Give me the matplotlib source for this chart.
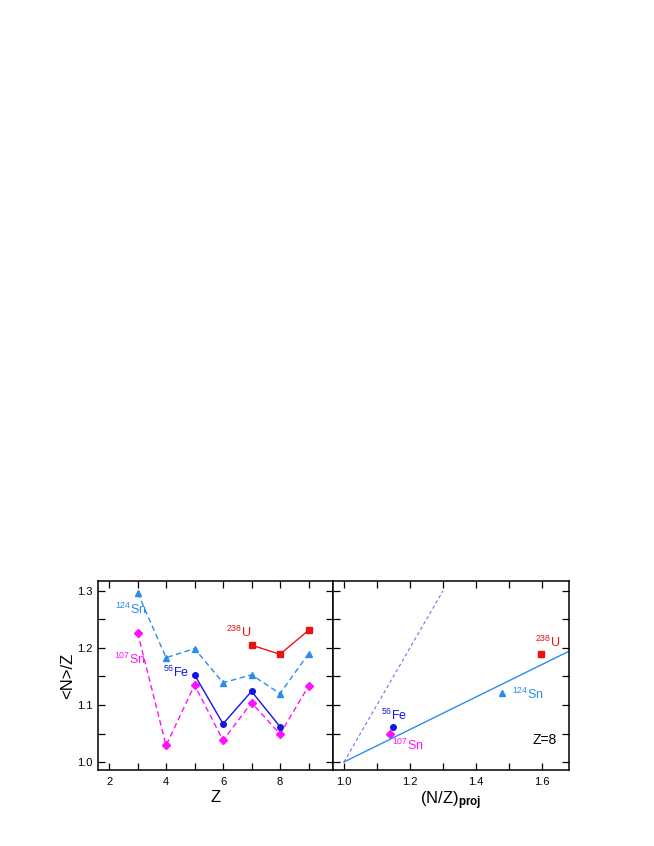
import matplotlib
matplotlib.use("Agg")
import matplotlib.pyplot as plt
from matplotlib.ticker import MultipleLocator

plt.rcParams['font.family'] = ['Liberation Sans', 'DejaVu Sans']
plt.rcParams['mathtext.fontset'] = 'custom'
plt.rcParams['mathtext.rm'] = 'Liberation Sans'
plt.rcParams['mathtext.it'] = 'Liberation Sans'
plt.rcParams['mathtext.bf'] = 'Liberation Sans:bold'

# ---- Left panel data: <N>/Z vs Z ----
z_all = [3, 4, 5, 6, 7, 8, 9]
sn124_vals = [1.297, 1.183, 1.199, 1.139, 1.153, 1.120, 1.190]
sn107_vals = [1.227, 1.029, 1.135, 1.038, 1.104, 1.049, 1.133]
z_fe = [5, 6, 7, 8]
fe56_vals = [1.153, 1.067, 1.124, 1.062]
z_u = [7, 8, 9]
u238_vals = [1.205, 1.189, 1.231]

# ---- Right panel data: <N>/Z at Z=8 vs (N/Z)proj ----
proj_names = ['56Fe', '107Sn', '124Sn', '238U']
proj_nz = [1.148, 1.139, 1.479, 1.597]
proj_vals = [1.061, 1.049, 1.121, 1.189]
fit_x = [1.0, 1.69]
fit_slope = 0.285
diag_x = [1.0, 1.30]

c_sn124 = '#2a8cf0'
c_sn107 = '#ff10ff'
c_fe = '#1414e6'
c_u = '#ee1111'
c_diag = '#7a6cf0'

W, H = 654, 846
fig = plt.figure(figsize=(W / 100, H / 100), dpi=100)
bot = 1 - 770 / H
top = 1 - 581 / H
axL = fig.add_axes([98 / W, bot, (333 - 98) / W, top - bot])
axR = fig.add_axes([333 / W, bot, (569 - 333) / W, top - bot])

lw = 1.0
ms = 4
axL.plot(z_all, sn124_vals, linestyle=(0, (4, 2.5)), color=c_sn124, lw=lw,
         marker='^', ms=ms, mec=c_sn124, mfc=c_sn124)
axL.plot(z_all, sn107_vals, linestyle=(0, (4, 2.5)), color=c_sn107, lw=lw,
         marker='D', ms=ms, mec=c_sn107, mfc=c_sn107)
axL.plot(z_fe, fe56_vals, linestyle='-', color=c_fe, lw=lw,
         marker='o', ms=ms, mec=c_fe, mfc=c_fe)
axL.plot(z_u, u238_vals, linestyle='-', color=c_u, lw=lw,
         marker='s', ms=ms, mec=c_u, mfc=c_u)

tfs = 9
axL.text(2.2, 1.267, r'$^{124}$Sn', color=c_sn124, fontsize=tfs, va='center', ha='left')
axL.text(2.18, 1.180, r'$^{107}$Sn', color=c_sn107, fontsize=tfs, va='center', ha='left')
axL.text(4.82, 1.158, r'$^{56}$Fe', color=c_fe, fontsize=tfs, va='center', ha='right')
axL.text(7.0, 1.228, r'$^{238}$U', color=c_u, fontsize=tfs, va='center', ha='right')

axL.set_xlim(1.61, 9.86)
axL.set_ylim(0.986, 1.3175)
axL.xaxis.set_major_locator(MultipleLocator(2))
axL.xaxis.set_minor_locator(MultipleLocator(1))
axL.yaxis.set_major_locator(MultipleLocator(0.1))
axL.yaxis.set_minor_locator(MultipleLocator(0.05))
axL.set_xlabel('Z', fontsize=12, labelpad=2)
axL.set_ylabel('<N>/Z', fontsize=12, labelpad=1)

# right panel
markers = ['o', 'D', '^', 's']
colors = [c_fe, c_sn107, c_sn124, c_u]
for x, y, m, c in zip(proj_nz, proj_vals, markers, colors):
    axR.plot([x], [y], linestyle='none', marker=m, ms=ms, mec=c, mfc=c)
axR.plot(fit_x, [1 + fit_slope * (x - 1) for x in fit_x], color=c_sn124, lw=lw)
axR.plot(diag_x, diag_x, color=c_diag, lw=0.8, linestyle=(0, (3, 2.5)))

axR.text(1.113, 1.081, r'$^{56}$Fe', color=c_fe, fontsize=tfs, va='center', ha='left')
axR.text(1.145, 1.029, r'$^{107}$Sn', color=c_sn107, fontsize=tfs, va='center', ha='left')
axR.text(1.51, 1.119, r'$^{124}$Sn', color=c_sn124, fontsize=tfs, va='center', ha='left')
axR.text(1.578, 1.209, r'$^{238}$U', color=c_u, fontsize=tfs, va='center', ha='left')
axR.text(1.57, 1.039, 'Z=8', color='black', fontsize=10, va='center', ha='left')

axR.set_xlim(0.967, 1.682)
axR.set_ylim(0.986, 1.3175)
axR.xaxis.set_major_locator(MultipleLocator(0.2))
axR.xaxis.set_minor_locator(MultipleLocator(0.1))
axR.yaxis.set_major_locator(MultipleLocator(0.1))
axR.yaxis.set_minor_locator(MultipleLocator(0.05))
axR.set_xlabel(r'(N/Z)$_{\mathbf{proj}}$', fontsize=12, labelpad=2)
axR.tick_params(axis='y', labelleft=False)

for ax in (axL, axR):
    for s in ax.spines.values():
        s.set_linewidth(1.1)
    ax.tick_params(which='both', direction='in', top=True, right=True,
                   labelsize=8, width=0.9)
    ax.tick_params(axis='x', pad=5)
    ax.tick_params(axis='y', pad=4)
    ax.tick_params(which='major', length=5)
    ax.tick_params(which='minor', length=5)

fig.savefig('out.png', dpi=100)
